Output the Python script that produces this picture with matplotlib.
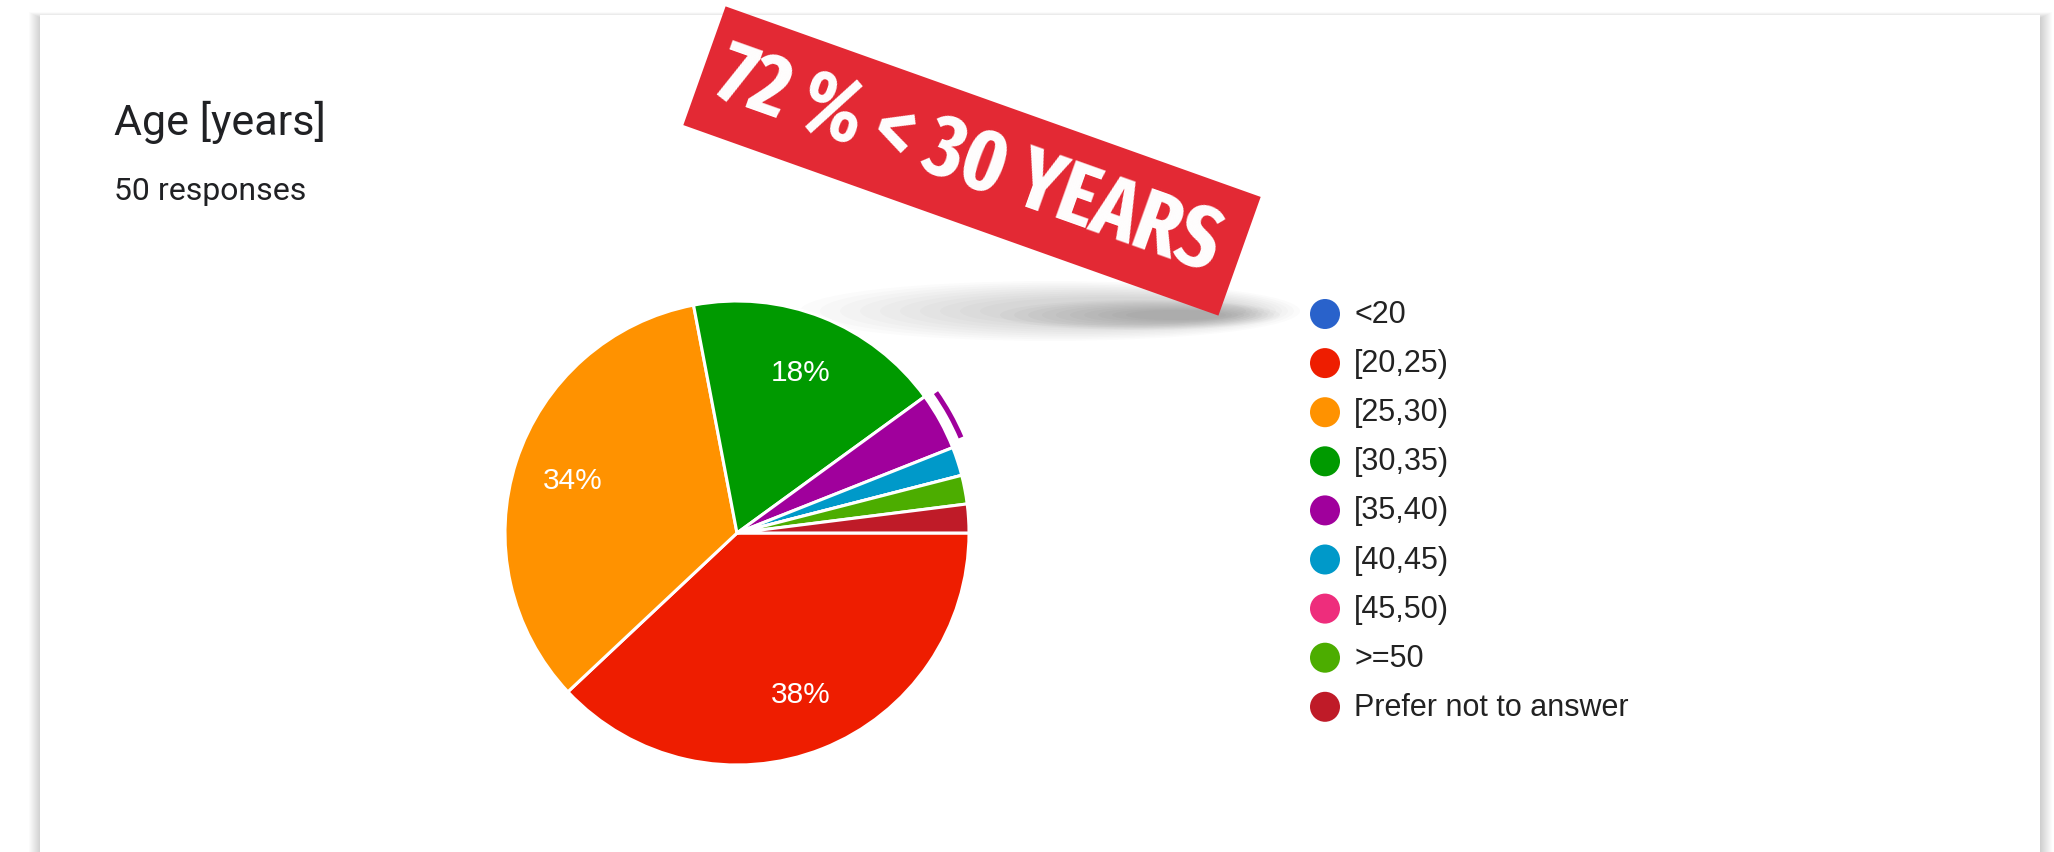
import os

import numpy as np
import matplotlib

matplotlib.use("Agg")
import matplotlib.pyplot as plt
from matplotlib import font_manager
from matplotlib.font_manager import FontProperties
from matplotlib.patches import Circle, Ellipse, Polygon, Rectangle, Wedge

labels = ["<20", "[20,25)", "[25,30)", "[30,35)", "[35,40)", "[40,45)",
          "[45,50)", ">=50", "Prefer not to answer"]
shares = [0, 38, 34, 18, 4, 2, 0, 2, 2]
colors = ["#2962cb", "#ee1d00", "#ff9200", "#009a00", "#a0009c", "#0099c9",
          "#ee2d7c", "#4cad00", "#bf1b28"]
highlight = "[35,40)"
title = "Age [years]"
subtitle = "50 responses"
banner_text = "72 % < 30 YEARS"

W, H = 2054, 853


def condensed_bold():
    """Pick the most condensed bold face that is installed, else None."""
    best, best_score = None, (0, 0)
    for f in font_manager.fontManager.ttflist:
        key = (os.path.basename(f.fname) + " " + f.name).lower().replace(" ", "").replace("-", "")
        if any(s in key for s in ("italic", "oblique", "mono", "cjk")):
            continue
        if "extracondensed" in key or "ultracondensed" in key:
            cond = 3
        elif "semicondensed" in key:
            cond = 1
        elif "condensed" in key or "narrow" in key or "cond" in str(f.stretch):
            cond = 2
        else:
            continue
        bold = 2 if ("bold" in key and not any(s in key for s in ("semibold", "extrabold", "demibold"))) else 0
        if bold == 0 and ("black" in key or "extrabold" in key or "semibold" in key):
            bold = 1
        if bold == 0:
            continue
        score = (cond, bold)
        if score > best_score:
            best, best_score = f.fname, score
    return best


fig = plt.figure(figsize=(W / 100, H / 100), dpi=100)
fig.patch.set_facecolor("white")
ax = fig.add_axes([0, 0, 1, 1])

# card with soft shadow (a bit heavier at the sides than on top)
x0, y0, x1, y1 = 40, 16, 2040, 920
for i in range(12, 0, -1):
    ax.add_patch(Rectangle((x0 - i + 1, y0 - 0.5 * i + 3), (x1 - x0) + 2 * i - 1, (y1 - y0) + 2 * i,
                           facecolor="black", alpha=0.016, lw=0, zorder=0))
ax.add_patch(Rectangle((x0, y0), x1 - x0, y1 - y0, facecolor="white", lw=0, zorder=1))

ax.text(114, 135, title, fontsize=31, family="Roboto", color="#202124", va="baseline", zorder=3)
ax.text(114, 200, subtitle, fontsize=23, family="Roboto", color="#202124", va="baseline", zorder=3)

# pie (y axis points down, so counterclockwise in data = clockwise on screen)
cx, cy, r = 737, 534, 232
wedges, _, autotexts = ax.pie(
    shares, colors=colors, center=(cx, cy), radius=r, startangle=0,
    counterclock=True, frame=True,
    autopct=lambda p: f"{p:.0f}%" if p >= 5 else "", pctdistance=0.745,
    wedgeprops=dict(edgecolor="white", linewidth=2.2, zorder=3),
    textprops=dict(color="white", fontsize=21.5, family="Liberation Sans", zorder=4),
)

# hover ring on the highlighted slice
total = sum(shares)
k = labels.index(highlight)
t1 = 360 * sum(shares[:k]) / total
t2 = t1 + 360 * shares[k] / total
ax.add_patch(Wedge((cx, cy), r + 14, t1 + 0.8, t2 - 1.5, width=5,
                   facecolor=colors[k], lw=0, zorder=3))

# legend
lx, ly, dy = 1325, 315, 49.1
for i, (lab, col) in enumerate(zip(labels, colors)):
    y = ly + i * dy
    ax.add_patch(Circle((lx, y), 15, facecolor=col, lw=0, zorder=5))
    ax.text(lx + 29, y, lab, fontsize=22, family="Liberation Sans", color="#222222",
            va="center", zorder=5)

# banner drop shadow: wide faint haze plus a darker core under the corner
for j in range(10):
    ax.add_patch(Ellipse((1050 + 7 * j, 312), 500 - 26 * j, 60 - 3.5 * j,
                         facecolor="black", alpha=0.014, lw=0, zorder=2))
for j in range(10):
    ax.add_patch(Ellipse((1140 + 4 * j, 316), 280 - 20 * j, 30 - 2.2 * j,
                         facecolor="black", alpha=0.018, lw=0, zorder=2))

# red banner
bx, by, blen, bh, ang = 972, 162, 568, 126, 19.6
u = np.array([np.cos(np.radians(ang)), np.sin(np.radians(ang))])
v = np.array([-u[1], u[0]])
c = np.array([bx, by])
corners = [c - blen / 2 * u - bh / 2 * v, c + blen / 2 * u - bh / 2 * v,
           c + blen / 2 * u + bh / 2 * v, c - blen / 2 * u + bh / 2 * v]
ax.add_patch(Polygon(corners, closed=True, facecolor="#e32934", lw=0, zorder=6))

fname = condensed_bold()
fp = FontProperties(fname=fname) if fname else FontProperties(family="DejaVu Sans", weight="bold")
tc = c - 4 * u
txt = ax.text(tc[0], tc[1], banner_text, fontproperties=fp, fontsize=60, color="white",
              ha="center", va="center", rotation=0, rotation_mode="anchor", zorder=7)

ax.set_xlim(0, W)
ax.set_ylim(H, 0)
ax.axis("off")

renderer = fig.canvas.get_renderer()
bb = txt.get_window_extent(renderer)
size = 60 * min(528 / bb.width, 124 / bb.height)
txt.set_fontsize(size)
txt.set_rotation(-ang)

fig.savefig("out.png", dpi=100, facecolor="white")
plt.close(fig)
